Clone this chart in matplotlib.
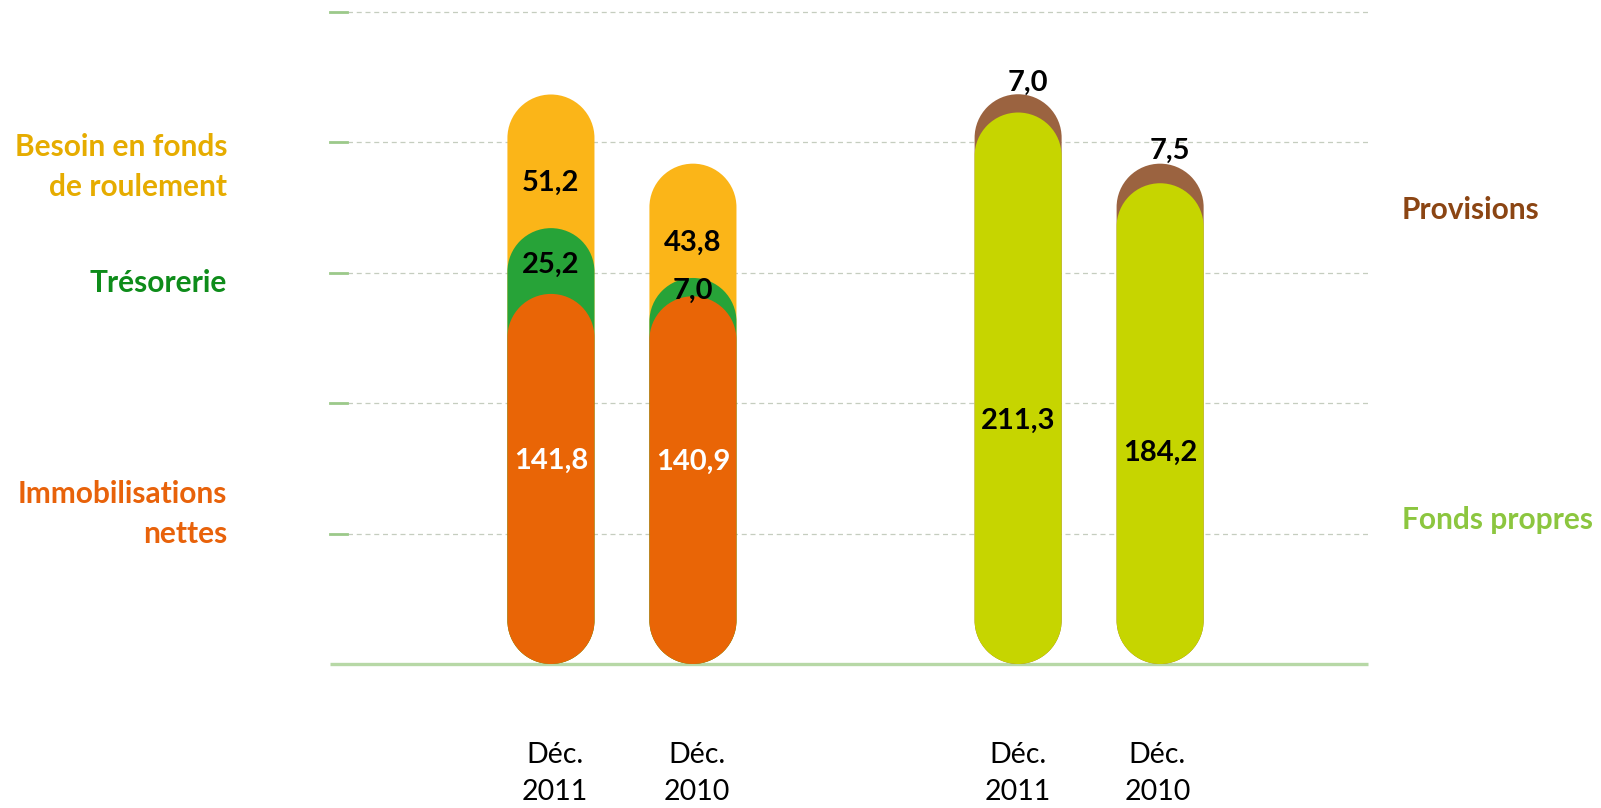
import numpy as np
import matplotlib
matplotlib.use('Agg')
from matplotlib import pyplot as plt
from matplotlib.path import Path
from matplotlib.patches import PathPatch

plt.rcParams['font.family'] = ['Lato', 'DejaVu Sans']

# données (M€)
periodes = ['Déc.\n2011', 'Déc.\n2010']
immobilisations = [141.8, 140.9]
tresorerie = [25.2, 7.0]
bfr = [51.2, 43.8]
fonds_propres = [211.3, 184.2]
provisions = [7.0, 7.5]
grille = [50, 100, 150, 200, 250]

# couleurs
c_bfr = '#FBB518'
c_treso = '#27A338'
c_immo = '#E96506'
c_fp = '#C6D500'
c_prov = '#9B6340'

W, H = 1601, 808
fig = plt.figure(figsize=(W / 100, H / 100), dpi=100)
ax = fig.add_axes([330 / W, (H - 664) / H, (1368 - 330) / W, (664 - 11.5) / H])
xmin, xmax = -1.556, 5.754
ax.set_xlim(xmin, xmax)
ax.set_ylim(0, 250)
ax.axis('off')

# rapport pixels x / pixels y pour avoir des bouts bien ronds
px_x = (1368 - 330) / (xmax - xmin)
px_y = (664 - 11.5) / 250
aspect = px_x / px_y

largeur = 0.613
rx = largeur / 2
ry = rx * aspect

x_actif = [0, 1]
x_passif = [3.29, 4.29]


def pilule(x, haut, couleur):
    arc_h = Path.arc(0, 180)
    arc_b = Path.arc(180, 360)
    v_h = arc_h.vertices * [rx, ry] + [x, haut - ry]
    v_b = arc_b.vertices * [rx, ry] + [x, ry]
    verts = np.concatenate([v_h, v_b, v_h[:1]])
    codes = np.concatenate([arc_h.codes, [Path.LINETO], arc_b.codes[1:], [Path.CLOSEPOLY]])
    ax.add_patch(PathPatch(Path(verts, codes), fc=couleur, ec='none', zorder=3, clip_on=False))


def fmt(v):
    return f'{v:.1f}'.replace('.', ',')


# grille
for g in grille:
    ax.plot([xmin, xmax], [g, g], color='#c5cdbf', lw=0.9, ls=(0, (4, 3)), zorder=1, clip_on=False)
    ax.plot([xmin, xmin + 17 / px_x], [g, g], color='#9cc98a', lw=2, zorder=1, clip_on=False)
ax.plot([xmin, xmax], [0, 0], color='#b7d8a6', lw=2.4, zorder=2, clip_on=False, solid_capstyle='butt')

kw = dict(ha='center', va='center', fontsize=21, fontweight='bold', zorder=5)

# actif
for i, x in enumerate(x_actif):
    h1 = immobilisations[i]
    h2 = h1 + tresorerie[i]
    h3 = h2 + bfr[i]
    pilule(x, h3, c_bfr)
    pilule(x, h2, c_treso)
    pilule(x, h1, c_immo)
    ax.text(x, (h2 + h3 - ry) / 2, fmt(bfr[i]), color='black', **kw)
    ax.text(x, (h1 + h2) / 2 - 1.5, fmt(tresorerie[i]), color='black', **kw)
    ax.text(x, h1 / 2 + ry / 2.4, fmt(immobilisations[i]), color='white', **kw)

# passif
for i, x in enumerate(x_passif):
    h1 = fonds_propres[i]
    h2 = h1 + provisions[i]
    pilule(x, h2, c_prov)
    pilule(x, h1, c_fp)
    ax.text(x, h1 * 0.44, fmt(fonds_propres[i]), color='black', **kw)
    ax.annotate(fmt(provisions[i]), xy=(x, h2), xytext=(7, 8 + i),
                textcoords='offset points', ha='center', va='center', fontsize=21,
                fontweight='bold', color='black', zorder=5, annotation_clip=False)

# étiquettes des périodes
decalage = [3, 3, 0, -2]
for x, p, d in zip(x_actif + x_passif, periodes * 2, decalage):
    ax.annotate(p, xy=(x, 0), xytext=(d, -79), textcoords='offset points', ha='center',
                va='center', fontsize=20.5, linespacing=1.5, color='black', annotation_clip=False)

# légendes
kw = dict(fontsize=21.5, fontweight='bold', va='center', linespacing=1.53)
fig.text(227 / W, 1 - 167 / H, 'Besoin en fonds\nde roulement', color='#E6AC00', ha='right', **kw)
fig.text(227 / W, 1 - 283 / H, 'Trésorerie', color='#0E8C1A', ha='right', **kw)
fig.text(227 / W, 1 - 514 / H, 'Immobilisations\nnettes', color='#E8620A', ha='right', **kw)
fig.text(1402 / W, 1 - 210 / H, 'Provisions', color='#8B4513', ha='left', **kw)
fig.text(1402 / W, 1 - 520 / H, 'Fonds propres', color='#8CC63F', ha='left', **kw)

fig.savefig('out.png', dpi=100, facecolor='white')
